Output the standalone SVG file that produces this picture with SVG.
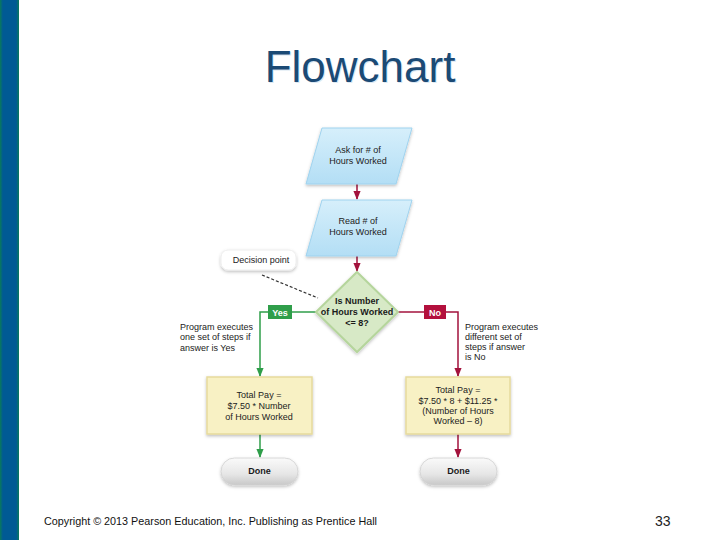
<svg xmlns="http://www.w3.org/2000/svg" width="720" height="540" viewBox="0 0 720 540">
<defs>
  <linearGradient id="bar" x1="0" y1="0" x2="1" y2="0">
    <stop offset="0" stop-color="#0a7a5a"/>
    <stop offset="0.15" stop-color="#005a94"/>
    <stop offset="0.85" stop-color="#005a94"/>
    <stop offset="1" stop-color="#0a7a5a"/>
  </linearGradient>
  <linearGradient id="para" x1="0" y1="0" x2="0" y2="1">
    <stop offset="0" stop-color="#d6effb"/>
    <stop offset="1" stop-color="#b3def5"/>
  </linearGradient>
  <linearGradient id="pill" x1="0" y1="0" x2="0" y2="1">
    <stop offset="0" stop-color="#fafafa"/>
    <stop offset="0.6" stop-color="#e6e6e6"/>
    <stop offset="1" stop-color="#c8c8c8"/>
  </linearGradient>
  <filter id="sh" x="-20%" y="-20%" width="140%" height="150%">
    <feDropShadow dx="0" dy="1.5" stdDeviation="1.5" flood-color="#000" flood-opacity="0.25"/>
  </filter>
  <marker id="ar" viewBox="0 0 10 10" refX="9" refY="5" markerWidth="6" markerHeight="6" orient="auto">
    <path d="M0,1 L10,5 L0,9 z" fill="#a3123c"/>
  </marker>
  <marker id="ag" viewBox="0 0 10 10" refX="9" refY="5" markerWidth="6" markerHeight="6" orient="auto">
    <path d="M0,1 L10,5 L0,9 z" fill="#2f9e4a"/>
  </marker>
</defs>
<style>
  text { font-family: "Liberation Sans", Arial, sans-serif; }
  .t { font-size: 9px; fill: #222; text-anchor: middle; }
  .b { font-size: 9px; fill: #1a1a1a; text-anchor: middle; font-weight: bold; }
  .n { font-size: 9px; fill: #222; }
  .para { fill: url(#para); stroke: #9fd3ef; stroke-width: 1; }
  .box { fill: #f8f1c4; stroke: #e6da9c; stroke-width: 1.5; }
  .pill { fill: url(#pill); stroke: #d0d0d0; stroke-width: 0.8; }
  .red { stroke: #a3123c; stroke-width: 1.5; fill: none; }
  .grn { stroke: #2f9e4a; stroke-width: 1.5; fill: none; }
</style>
<rect width="720" height="540" fill="#ffffff"/>
<rect x="0" y="0" width="19" height="540" fill="url(#bar)"/>
<text x="361" y="83" font-size="44" fill="#dbe8f2" text-anchor="middle">Flowchart</text>
<text x="360" y="82" font-size="44" fill="#1b4a75" text-anchor="middle">Flowchart</text>

<g id="connectors">
  <line class="red" x1="357" y1="184" x2="357" y2="199" marker-end="url(#ar)"/>
  <line class="red" x1="357" y1="256" x2="357" y2="271" marker-end="url(#ar)"/>
  <polyline class="grn" points="318,312 292,312"/>
  <polyline class="grn" points="268,312 260,312 260,376" marker-end="url(#ag)"/>
  <polyline class="red" points="397,312 424,312"/>
  <polyline class="red" points="446,312 458,312 458,376" marker-end="url(#ar)"/>
  <line class="grn" x1="260" y1="434" x2="260" y2="457" marker-end="url(#ag)"/>
  <line class="red" x1="458" y1="434" x2="458" y2="457" marker-end="url(#ar)"/>
  <line x1="262" y1="275" x2="318" y2="298" stroke="#333" stroke-width="1.2" stroke-dasharray="3,2"/>
</g>

<g id="ask">
  <polygon class="para" points="322,128 412,128 396,184 306,184" filter="url(#sh)"/>
  <text class="t" x="358" y="153">Ask for # of</text>
  <text class="t" x="358" y="164">Hours Worked</text>
</g>
<g id="read">
  <polygon class="para" points="322,200 412,200 396,256 306,256" filter="url(#sh)"/>
  <text class="t" x="358" y="224">Read # of</text>
  <text class="t" x="358" y="235">Hours Worked</text>
</g>
<g id="decision">
  <polygon points="357,272 398,312 357,352 316,312" fill="#d7e9c6" stroke="#b5d59c" stroke-width="2" filter="url(#sh)"/>
  <text class="b" x="357" y="304">Is Number</text>
  <text class="b" x="357" y="315">of Hours Worked</text>
  <text class="b" x="357" y="326">&lt;= 8?</text>
</g>
<g id="decision-point">
  <rect x="221" y="250" width="75" height="20" rx="7" fill="#fff" stroke="#eee" filter="url(#sh)"/>
  <text class="t" x="261" y="263">Decision point</text>
</g>
<g id="yes">
  <rect x="268" y="305" width="24" height="14" fill="#2f9e4a"/>
  <text x="280" y="315.5" font-size="9" font-weight="bold" fill="#fff" text-anchor="middle">Yes</text>
</g>
<g id="no">
  <rect x="424" y="305" width="22" height="14" fill="#b3103d"/>
  <text x="435" y="315.5" font-size="9" font-weight="bold" fill="#fff" text-anchor="middle">No</text>
</g>
<g id="yes-note">
  <text class="n" x="180" y="330">Program executes</text>
  <text class="n" x="180" y="340">one set of steps if</text>
  <text class="n" x="180" y="351">answer is Yes</text>
</g>
<g id="no-note">
  <text class="n" x="465" y="330">Program executes</text>
  <text class="n" x="465" y="340">different set of</text>
  <text class="n" x="465" y="350">steps if answer</text>
  <text class="n" x="465" y="360">is No</text>
</g>
<g id="pay-yes">
  <rect class="box" x="207" y="377" width="105" height="57" filter="url(#sh)"/>
  <text class="t" x="259" y="398">Total Pay =</text>
  <text class="t" x="259" y="409">$7.50 * Number</text>
  <text class="t" x="259" y="420">of Hours Worked</text>
</g>
<g id="pay-no">
  <rect class="box" x="406" y="377" width="104" height="57" filter="url(#sh)"/>
  <text class="t" x="458" y="393">Total Pay =</text>
  <text class="t" x="458" y="404">$7.50 * 8 + $11.25 *</text>
  <text class="t" x="458" y="414">(Number of Hours</text>
  <text class="t" x="458" y="424">Worked – 8)</text>
</g>
<g id="done-yes">
  <rect class="pill" x="221" y="458" width="77" height="27" rx="13.5" filter="url(#sh)"/>
  <text class="b" x="259.5" y="474">Done</text>
</g>
<g id="done-no">
  <rect class="pill" x="420" y="458" width="77" height="27" rx="13.5" filter="url(#sh)"/>
  <text class="b" x="458.5" y="474">Done</text>
</g>

<text x="44" y="525" font-size="11" fill="#111" font-family="'Liberation Sans Narrow', 'Liberation Sans', sans-serif" textLength="333" lengthAdjust="spacingAndGlyphs">Copyright © 2013 Pearson Education, Inc. Publishing as Prentice Hall</text>
<text x="655" y="526" font-size="14" fill="#222" font-family="'Liberation Sans Narrow', 'Liberation Sans', sans-serif">33</text>
</svg>
